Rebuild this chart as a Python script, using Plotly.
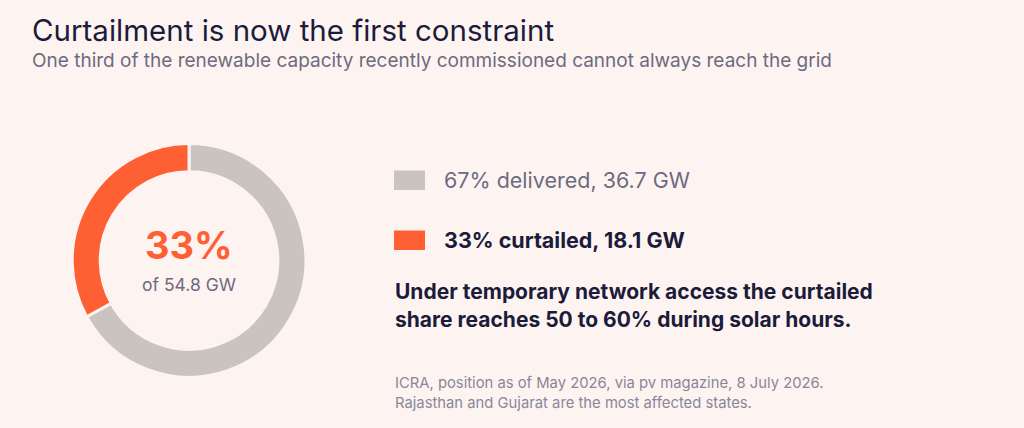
import plotly.graph_objects as go

# data
labels = ["delivered", "curtailed"]
shares = [67, 33]
capacity_gw = [36.7, 18.1]
total_gw = 54.8
colors = ["#C9C4BF", "#FF6033"]

bg = "#FDF4F2"
dark = "#1C1B3A"
grey_txt = "#6E6A80"
font = "Inter, Roboto, sans-serif"

fig = go.Figure()
fig.add_trace(go.Pie(
    labels=labels,
    values=shares,
    hole=0.76,
    sort=False,
    direction="clockwise",
    rotation=0,
    marker=dict(colors=colors, line=dict(color=bg, width=3)),
    textinfo="none",
    hoverinfo="label+percent",
    showlegend=False,
    domain=dict(x=[0.0705, 0.2987], y=[0.1185, 0.6645]),
))

ann = []
ann.append(dict(x=30, y=30, text="Curtailment is now the first constraint",
                font=dict(size=29.5, color=dark, family=font)))
ann.append(dict(x=30, y=60, text="One third of the renewable capacity recently commissioned cannot always reach the grid",
                font=dict(size=19, color=grey_txt, family=font)))

# centre label
ann.append(dict(x=189, y=245, xanchor="center", text="<b>%d%%</b>" % shares[1],
                font=dict(size=38, color=colors[1], family=font)))
ann.append(dict(x=189, y=284, xanchor="center", text="of %.1f GW" % total_gw,
                font=dict(size=17.5, color=grey_txt, family=font)))

# legend rows
shapes = []
rows_y = [180, 240]
for i, yy in enumerate(rows_y):
    shapes.append(dict(type="rect", xref="paper", yref="paper",
                       x0=394 / 1024, x1=425 / 1024,
                       y0=1 - (yy + 10) / 428, y1=1 - (yy - 9.5) / 428,
                       fillcolor=colors[i], line=dict(width=0)))
ann.append(dict(x=442, y=rows_y[0], text="%d%% %s, %.1f GW" % (shares[0], labels[0], capacity_gw[0]),
                font=dict(size=21.5, color=grey_txt, family=font)))
ann.append(dict(x=442, y=rows_y[1], text="<b>%d%% %s, %.1f GW</b>" % (shares[1], labels[1], capacity_gw[1]),
                font=dict(size=21.5, color=dark, family=font)))

ann.append(dict(x=393, y=291, text="<b>Under temporary network access the curtailed</b>",
                font=dict(size=21, color=dark, family=font)))
ann.append(dict(x=393, y=319, text="<b>share reaches 50 to 60% during solar hours.</b>",
                font=dict(size=21, color=dark, family=font)))

ann.append(dict(x=393, y=383, text="ICRA, position as of May 2026, via pv magazine, 8 July 2026.",
                font=dict(size=14.8, color="#8A8698", family=font)))
ann.append(dict(x=393, y=403, text="Rajasthan and Gujarat are the most affected states.",
                font=dict(size=14.8, color="#8A8698", family=font)))

for a in ann:
    a.setdefault("xanchor", "left")
    a["x"] = a["x"] / 1024
    a["y"] = 1 - a["y"] / 428
    a.update(xref="paper", yref="paper", yanchor="middle", showarrow=False)

fig.update_layout(
    width=1024, height=428,
    margin=dict(l=0, r=0, t=0, b=0),
    paper_bgcolor=bg, plot_bgcolor=bg,
    annotations=ann, shapes=shapes,
)
# drop the page's default body margin so the figure fills the window
fig.write_html("out.html", config={"displayModeBar": False},
               post_script="document.body.style.margin='0';")
